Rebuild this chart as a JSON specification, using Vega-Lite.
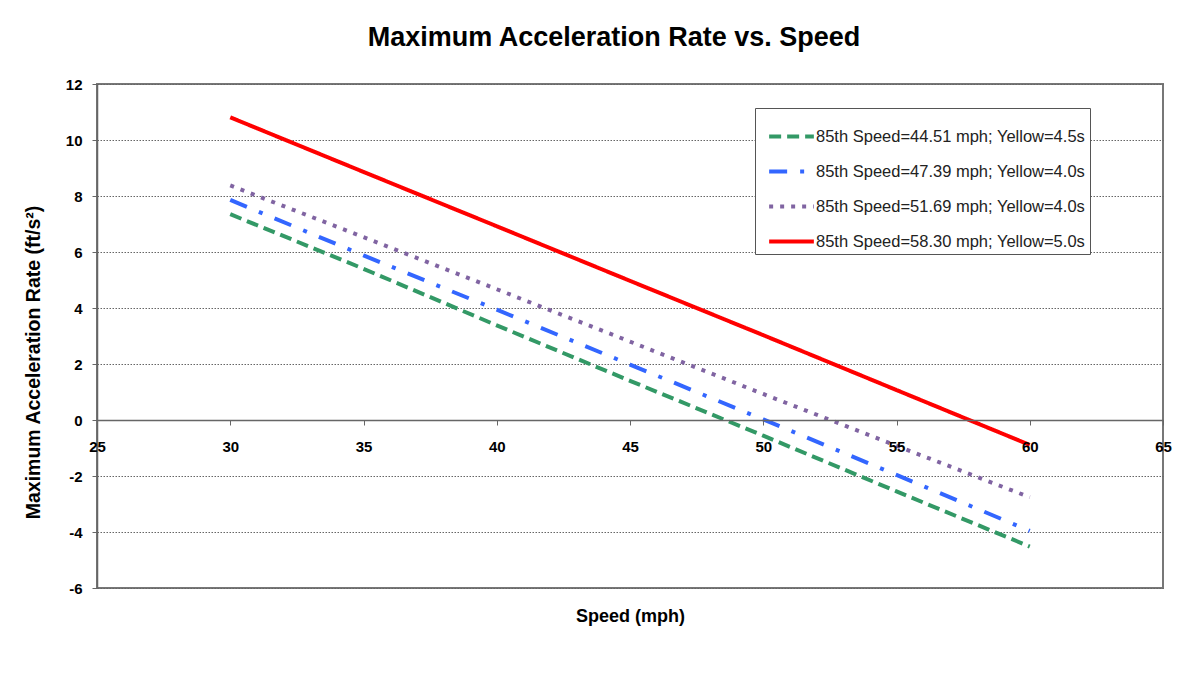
{
  "$schema": "https://vega.github.io/schema/vega-lite/v6.json",
  "width": 1066,
  "height": 504,
  "autosize": {"type": "none"},
  "padding": {"left": 97, "top": 84, "right": 22, "bottom": 88},
  "background": "white",
  "title": {
    "text": "Maximum Acceleration Rate vs. Speed",
    "font": "Liberation Sans",
    "fontSize": 27,
    "fontWeight": "bold",
    "color": "#000000",
    "anchor": "middle",
    "dx": -16,
    "offset": 25
  },
  "data": {
    "values": [
      {"speed": 30, "accel": 7.35, "series": "85th Speed=44.51 mph; Yellow=4.5s"},
      {"speed": 35, "accel": 5.40, "series": "85th Speed=44.51 mph; Yellow=4.5s"},
      {"speed": 40, "accel": 3.38, "series": "85th Speed=44.51 mph; Yellow=4.5s"},
      {"speed": 45, "accel": 1.40, "series": "85th Speed=44.51 mph; Yellow=4.5s"},
      {"speed": 50, "accel": -0.56, "series": "85th Speed=44.51 mph; Yellow=4.5s"},
      {"speed": 55, "accel": -2.55, "series": "85th Speed=44.51 mph; Yellow=4.5s"},
      {"speed": 60, "accel": -4.52, "series": "85th Speed=44.51 mph; Yellow=4.5s"},
      {"speed": 30, "accel": 7.86, "series": "85th Speed=47.39 mph; Yellow=4.0s"},
      {"speed": 35, "accel": 5.88, "series": "85th Speed=47.39 mph; Yellow=4.0s"},
      {"speed": 40, "accel": 3.94, "series": "85th Speed=47.39 mph; Yellow=4.0s"},
      {"speed": 45, "accel": 1.98, "series": "85th Speed=47.39 mph; Yellow=4.0s"},
      {"speed": 50, "accel": 0.02, "series": "85th Speed=47.39 mph; Yellow=4.0s"},
      {"speed": 55, "accel": -1.96, "series": "85th Speed=47.39 mph; Yellow=4.0s"},
      {"speed": 60, "accel": -3.96, "series": "85th Speed=47.39 mph; Yellow=4.0s"},
      {"speed": 30, "accel": 8.38, "series": "85th Speed=51.69 mph; Yellow=4.0s"},
      {"speed": 35, "accel": 6.53, "series": "85th Speed=51.69 mph; Yellow=4.0s"},
      {"speed": 40, "accel": 4.67, "series": "85th Speed=51.69 mph; Yellow=4.0s"},
      {"speed": 45, "accel": 2.80, "series": "85th Speed=51.69 mph; Yellow=4.0s"},
      {"speed": 50, "accel": 0.93, "series": "85th Speed=51.69 mph; Yellow=4.0s"},
      {"speed": 55, "accel": -0.92, "series": "85th Speed=51.69 mph; Yellow=4.0s"},
      {"speed": 60, "accel": -2.76, "series": "85th Speed=51.69 mph; Yellow=4.0s"},
      {"speed": 30, "accel": 10.81, "series": "85th Speed=58.30 mph; Yellow=5.0s"},
      {"speed": 35, "accel": 8.86, "series": "85th Speed=58.30 mph; Yellow=5.0s"},
      {"speed": 40, "accel": 6.92, "series": "85th Speed=58.30 mph; Yellow=5.0s"},
      {"speed": 45, "accel": 4.97, "series": "85th Speed=58.30 mph; Yellow=5.0s"},
      {"speed": 50, "accel": 3.03, "series": "85th Speed=58.30 mph; Yellow=5.0s"},
      {"speed": 55, "accel": 1.07, "series": "85th Speed=58.30 mph; Yellow=5.0s"},
      {"speed": 60, "accel": -0.89, "series": "85th Speed=58.30 mph; Yellow=5.0s"}
    ]
  },
  "mark": {"type": "line", "strokeWidth": 4, "strokeCap": "butt", "clip": false},
  "encoding": {
    "x": {
      "field": "speed",
      "type": "quantitative",
      "scale": {"domain": [25, 65], "nice": false, "zero": false},
      "axis": {
        "title": "Speed (mph)",
        "values": [25, 30, 35, 40, 45, 50, 55, 60, 65],
        "offset": -168,
        "grid": false,
        "domainColor": "#666666",
        "domainWidth": 1.5,
        "tickColor": "#666666",
        "tickSize": 5,
        "labelFlush": false,
        "labelOverlap": false,
        "labelPadding": 14,
        "labelFont": "Liberation Sans",
        "labelFontSize": 15,
        "labelFontWeight": "bold",
        "labelColor": "#000000",
        "titleFont": "Liberation Sans",
        "titleFontSize": 18,
        "titleFontWeight": "bold",
        "titleColor": "#000000",
        "titlePadding": 153,
        "zindex": 1
      }
    },
    "y": {
      "field": "accel",
      "type": "quantitative",
      "scale": {"domain": [-6, 12], "nice": false, "zero": false},
      "axis": {
        "title": "Maximum Acceleration Rate (ft/s²)",
        "values": [-6, -4, -2, 0, 2, 4, 6, 8, 10, 12],
        "labelExpr": "datum.value < 0 ? '-' + abs(datum.value) : '' + datum.value",
        "grid": true,
        "gridColor": "#666666",
        "gridDash": [1.5, 1.5],
        "gridWidth": 1,
        "domainColor": "#666666",
        "domainWidth": 1.5,
        "tickColor": "#666666",
        "tickSize": 5,
        "labelFlush": false,
        "labelPadding": 10,
        "labelFont": "Liberation Sans",
        "labelFontSize": 15,
        "labelFontWeight": "bold",
        "labelColor": "#000000",
        "titleFont": "Liberation Sans",
        "titleFontSize": 19.5,
        "titleFontWeight": "bold",
        "titleColor": "#000000",
        "titlePadding": 22,
        "titleY": 278
      }
    },
    "color": {
      "field": "series",
      "type": "nominal",
      "scale": {"range": ["#339966", "#3366FF", "#8064A2", "#FF0000"]},
      "legend": {
        "title": null,
        "orient": "none",
        "legendX": 658,
        "legendY": 24,
        "symbolType": "stroke",
        "symbolSize": 2000,
        "symbolStrokeWidth": 4,
        "symbolOffset": 8,
        "labelOffset": 0,
        "labelFont": "Liberation Sans",
        "labelFontSize": 16.5,
        "labelColor": "#222222",
        "labelLimit": 400,
        "rowPadding": 2,
        "padding": 4,
        "strokeColor": "#555555",
        "fillColor": "white"
      }
    },
    "strokeDash": {
      "field": "series",
      "type": "nominal",
      "scale": {"range": [[12, 6], [18, 13, 4, 13], [4, 7], [1, 0]]}
    }
  },
  "config": {
    "view": {"stroke": "#777777", "strokeWidth": 2}
  }
}
